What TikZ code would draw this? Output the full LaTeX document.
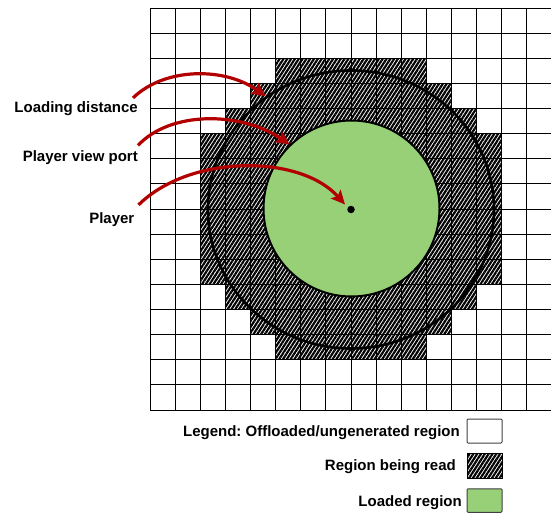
\documentclass[tikz,border=0pt]{standalone}
\usepackage{fontspec}
\setmainfont{Liberation Sans}
\usetikzlibrary{arrows.meta,patterns.meta,shapes.geometric}
\definecolor{arrowred}{HTML}{B20000}
\definecolor{loadgreen}{HTML}{97D077}
\frenchspacing

\begin{document}
\begin{tikzpicture}[x=1pt,y=-1pt,
  lbl/.style={font=\bfseries\fontsize{15}{18}\selectfont, inner sep=0pt, anchor=base east},
  pointer/.style={draw=arrowred, line width=3.2pt,
    -{Stealth[length=14pt,width=13pt,inset=3pt]}},
  hatch/.style={pattern={Lines[angle=57,distance=3.2pt,line width=2.2pt]}, pattern color=black},
  gridline/.style={draw=black, line width=0.9pt},
  keybox/.style={draw=black!75, line width=1pt, rounded corners=1pt}
]
\useasboundingbox (0,0) rectangle (551,513);

% chunk grid: 16 x 16 cells
\begin{scope}[shift={(150,8)}, x=25.125pt, y=-25.125pt]
  % chunks being read
  \fill[hatch] (5,2) -- (11,2) -- (11,3) -- (12,3) -- (12,4) -- (13,4) -- (13,5)
    -- (14,5) -- (14,11) -- (13,11) -- (13,12) -- (12,12) -- (12,13) -- (11,13)
    -- (11,14) -- (5,14) -- (5,13) -- (4,13) -- (4,12) -- (3,12) -- (3,11)
    -- (2,11) -- (2,5) -- (3,5) -- (3,4) -- (4,4) -- (4,3) -- (5,3) -- cycle;
  \foreach \i in {0,...,16} {
    \draw[gridline] (\i,0) -- (\i,16);
    \draw[gridline] (0,\i) -- (16,\i);
  }
\end{scope}

% loading distance and view port
\node[ellipse, draw=black, line width=2.6pt, minimum width=286pt, minimum height=278pt,
  inner sep=0pt] (reach) at (351,209.5) {};
\node[circle, draw=black, line width=2pt, fill=loadgreen, minimum size=176pt,
  inner sep=0pt] (view) at (351.5,208.5) {};
\node[circle, fill=black, minimum size=7.5pt, inner sep=0pt] (player) at (351,209.5) {};

% labels
\node[lbl] (ldist) at (138,113) {Loading distance};
\node[lbl] (vport) at (138,161.5) {Player view port};
\node[lbl] (pname) at (134.5,223) {Player};

% pointers
\draw[pointer] ([shift={(-5,-4)}]ldist.north east)
  .. controls (165,67) and (225,67) .. (reach.127);
\draw[pointer] ([shift={(0,-5)}]vport.north east)
  .. controls (170,111) and (240,111) .. (view.134);
\draw[pointer] ([shift={(4,-7)}]pname.north east)
  .. controls (190,154) and (300,154) .. ([shift={(-6,-5)}]player.center);

% legend
\node[lbl] (k1) at (460,436.5) {Legend: Offloaded/ungenerated region};
\node[lbl] (k2) at (456,470.5) {Region being read};
\node[lbl] (k3) at (462,506.5) {Loaded region};
\node[keybox, fill=white, minimum width=35pt, minimum height=24pt, inner sep=0pt,
  anchor=west] (b1) at (466.5,431) {};
\node[hatch, draw=black, line width=1pt, minimum width=35pt, minimum height=25pt, inner sep=0pt,
  anchor=west] (b2) at (466.5,465.5) {};
\node[keybox, fill=loadgreen, minimum width=35pt, minimum height=23.5pt, inner sep=0pt,
  anchor=west] (b3) at (466.5,500.5) {};
\end{tikzpicture}
\end{document}
